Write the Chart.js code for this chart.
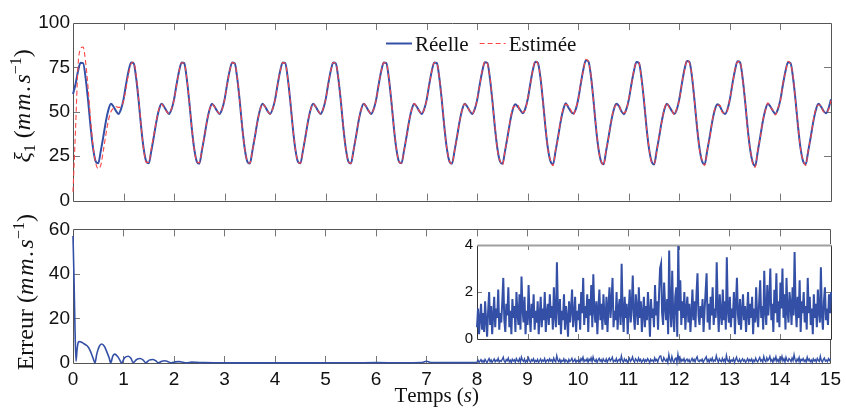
<!DOCTYPE html>
<html><head><meta charset="utf-8">
<script src="https://cdn.jsdelivr.net/npm/chart.js@4.4.0/dist/chart.umd.min.js"></script>
<style>
html,body{margin:0;padding:0;background:#fff;}
#wrap{position:relative;width:846px;height:409px;overflow:hidden;background:#fff;}
canvas{position:absolute;}
</style></head><body>
<div id="wrap">
<canvas id="top" width="846" height="215" style="left:0;top:0;width:846px;height:215px"></canvas>
<canvas id="bot" width="846" height="194" style="left:0;top:215px;width:846px;height:194px"></canvas>
<canvas id="ins" width="400" height="120" style="left:440px;top:232px;width:400px;height:120px"></canvas>
</div>
<script>
// ---------- tick labels ----------
const X_TICKS = [0,1,2,3,4,5,6,7,8,9,10,11,12,13,14,15];
const Y_TOP_TICKS = [0,25,50,75,100];
const Y_ERR_TICKS = [0,20,40,60];
const Y_INSET_TICKS = [0,2,4];
const X_INSET_TICKS = [8,9,10,11,12,13,14,15];

// ---------- series labels ----------
const SERIES_LABELS = ['Réelle', 'Estimée'];

// ---------- sampling grid of the xi_1 signals (s) ----------
const SAMPLE_STEP = 0.05;

const REAL = [
 60,65.5,73,77.6,77.4,69,56,41,29,22,21,28,36,44.5,51,54.5,53,50.5,48.8,51.5,
 57,65.5,73,77.7,77.3,69,56,41,29,22,21,28,36,44.5,51,54.5,53,50.5,48.8,51.5,
 57,65.5,73,77.8,77.4,69,56,41,29,22,20.8,28,36,44.5,51,54.6,53,50.5,48.8,51.5,
 57,65.6,73.1,77.7,77.3,69,56,41,29,22,20.9,28,36,44.5,51,54.5,53,50.4,48.8,51.6,
 57,65.5,73,77.7,77.4,69,56,41,29,22,21,28,36,44.5,51,54.5,53,50.5,48.8,51.5,
 57,65.5,73,77.8,77.3,69,56,41,29,22,20.9,28,36,44.5,51,54.5,53,50.5,48.8,51.5,
 57,65.5,73,77.7,77.4,69,56,41,29,22,21,28,36,44.5,51,54.6,53,50.5,48.8,51.5,
 57,65.5,73,77.8,77.4,69,56,41,29,22,20.8,28,36,44.5,51,54.5,53,50.5,48.8,51.5,
 57,65.5,73,77.9,77.5,69,56,41,29,22,20.7,28,36,44.5,51,54.2,53,51,49.2,51.8,
 57.3,65.8,73.5,78.2,77.6,69.2,56,41,29,22,20.5,28,36,44.5,51,54.8,52.6,50.2,49,51.5,
 57.5,66,74,79,78.3,70,56.5,41,29,22,20.4,28,36,44.5,51,54.5,53.4,50.5,48.6,51.5,
 57,65.5,73,78,77.5,69,56,41,29,22,20.3,28,36,44.5,51,54.6,53,50.5,48.9,51.5,
 57.4,66,73.8,78.6,78,69.5,56,41,29,22,20.4,28,36,44.5,51,54.3,53.2,50.3,48.7,51.3,
 57.2,65.8,73.4,78.4,77.8,69.3,56,41,28.8,21.6,19.5,27.5,36,44.5,51,54.5,53,50.5,48.8,51.5,
 57,65.5,73,77.9,77.4,69,56,41,29,22,20.5,28,36,44.5,51,54.5,53,50.6,49.2,51.8,
 57
];

// xi_1 estimated (mm/s)
const ESTIMATED = [
 5,40,76,85.5,86.5,78,63,45,30,21,18,20,28,37,45,50,52,53,52.5,53,
 56,63.5,71.5,77,78,70.5,57,41.5,28,21.5,21.5,29.5,37,45,51.5,54.3,52.6,50.2,49,51.8,
 56.8,65.2,72.8,77.6,77.5,69.3,56.2,40.8,28.7,22,21.2,28.4,36.2,44.6,51,54.4,52.9,50.5,48.9,51.5,
 57,65.5,73.1,77.7,77.3,69,56,41,29,22,21,28,36,44.5,51,54.5,53,50.4,48.8,51.6,
 57,65.5,73,77.7,77.4,69,56,41,29,22,21,28,36,44.5,51,54.5,53,50.5,48.8,51.5,
 57,65.5,73,77.8,77.3,69,56,41,29,22,20.9,28,36,44.5,51,54.5,53,50.5,48.8,51.5,
 57,65.5,73,77.7,77.4,69,56,41,29,22,21,28,36,44.5,51,54.6,53,50.5,48.8,51.5,
 57,65.5,73,77.8,77.4,69,56,41,29,22,20.8,28,36,44.5,51,54.5,53,50.5,48.8,51.5,
 57.5,65,73.5,78.2,77,69.5,55.5,41.5,28.5,22.5,20.2,28.5,35.5,45,52,53.2,53.8,50,49.8,51,
 58,65.2,74,78.6,77,69.8,55.5,41.6,28.4,22.6,19.6,28.6,35.4,45.2,51.8,54.2,53.5,51.2,48.2,52.2,
 57,66.6,73.4,79.6,78.2,70.6,56,41.6,28.4,22.5,19.8,28.5,35.6,45,51.5,53.8,54,50,49.4,50.8,
 57.8,65,73.6,77.6,77.8,68.4,56.6,40.4,29.6,21.4,20.8,27.4,36.6,44,51.6,55,52.2,51,48.2,52.2,
 56.8,66.6,73.2,79.2,77.4,70.2,55.4,41.6,28.4,22.6,19.8,28.6,35.4,45,51.6,53.6,53.8,49.6,49.4,50.6,
 57.8,65.2,74,78,78.4,68.6,56.6,40.4,29.4,21,18.8,28.2,35.4,45,50.4,55,52.4,51,48.2,52.2,
 56.6,66.2,72.4,78.5,77,69.6,55.4,41.6,28.4,22.6,19.8,28.6,35.4,45.2,51.6,53.8,53.6,50,49.8,51.2,
 56.4
];

// error, transient part (times in s, values in mm/s)
const ERR_T = [0,0.02,0.04,0.06,0.08,0.10,0.12,0.16,0.20,0.25,0.30,0.35,0.40,0.435,0.47,0.52,0.57,0.62,0.67,0.72,0.745,
 0.79,0.83,0.88,0.93,0.96,1.02,1.095,1.15,1.19,1.26,1.33,1.39,1.44,1.51,1.58,1.64,1.69,1.76,1.82,1.88,1.95,
 2.03,2.1,2.18,2.25,2.35,2.45,2.6,2.8,3.0,3.5,4.0,4.5,5.0,5.5,6.0,6.5,6.9,7.0,7.1,7.5,8.0];
const ERR_V = [57,38,15,0.8,6,9,9.6,9.4,8.9,8.2,7.2,5,2,0,4,7.5,8.5,7.5,5,2,0,
 3.2,4,3,1.2,0,2.3,3,2,0.2,1.6,2,1.3,0.1,1.3,1.6,1,0.1,0.8,1.0,0.6,0.1,
 0.5,0.6,0.3,0.1,0.4,0.3,0.15,0.1,0.1,0.05,0.1,0.05,0.1,0.1,0.15,0.1,0.2,0.8,0.2,0.15,0.2];

// error, steady-state part from 8 s (one value every 0.02 s)
const NOISE_START = 8;
const NOISE_STEP = 0.02;
const ERR_NOISE = [
 0.5,1.3,0.2,0.9,1.5,0.4,1.1,0.3,1.6,0.8,0.1,1.2,2.0,0.6,1.4,0.2,1.0,1.8,0.5,1.3,0.9,2.1,0.4,1.1,0.7,
 1.6,2.6,0.8,0.3,1.5,1.0,2.2,0.5,1.2,0.2,1.7,0.9,1.4,0.3,2.0,1.1,0.6,1.9,0.4,2.66,1.3,0.7,1.8,0.2,1.2,
 0.6,2.3,1.0,0.3,1.5,0.9,1.9,0.4,1.2,0.7,1.6,0.2,1.0,1.8,0.5,1.3,0.8,2.0,0.3,1.1,1.5,0.6,1.9,0.9,1.4,
 0.4,2.2,1.0,0.5,3.27,1.3,0.6,1.7,0.2,1.2,0.8,1.9,0.4,1.4,0.9,0.1,1.6,0.7,1.3,2.1,0.5,1.0,1.8,0.3,1.2,
 0.8,1.5,0.4,2.0,1.1,2.6,0.6,1.4,0.9,1.9,0.3,1.7,1.0,2.3,0.5,2.75,1.2,0.7,1.6,0.2,1.3,2.1,0.8,1.5,0.4,
 1.9,1.0,0.6,1.8,0.3,1.4,2.2,0.9,1.6,2.6,0.5,1.2,0.8,2.0,0.4,1.3,1.7,0.6,3.2,1.1,0.3,1.8,0.9,1.5,0.2,
 1.2,2.1,0.7,1.4,2.7,1.0,0.4,1.9,1.3,0.6,2.2,0.9,1.6,0.3,1.1,1.8,0.5,1.4,0.8,2.0,1.2,0.1,1.7,0.9,1.3,
 0.5,2.3,1.0,1.6,0.4,1.9,3.0,3.2,1.1,0.6,2.4,1.4,0.8,1.7,0.2,3.77,1.3,0.5,2.9,1.0,0.3,1.8,2.2,0.1,3.96,
 1.2,2.5,0.6,1.6,0.9,2.0,0.4,1.3,1.8,0.7,1.5,0.3,1.1,2.1,0.8,1.6,0.5,1.9,2.8,1.0,0.6,1.4,0.9,1.7,0.3,
 1.2,2.0,2.8,0.7,1.5,0.4,1.8,1.0,2.2,0.6,1.3,0.9,3.27,1.4,0.3,1.9,1.1,0.6,2.1,0.8,1.6,0.4,3.48,1.2,0.7,
 1.8,0.5,1.3,0.9,2.0,0.2,1.5,2.6,1.0,0.6,1.7,0.4,1.2,1.9,0.8,1.4,0.3,1.1,2.0,0.6,1.5,0.9,1.8,0.2,1.3,
 0.7,2.2,1.0,0.5,1.6,2.5,0.9,1.4,0.4,2.9,1.2,0.6,2.3,1.0,1.7,3.0,0.8,1.5,0.3,2.1,1.1,2.8,0.7,1.6,0.5,
 2.4,1.3,3.0,0.9,1.9,0.4,2.6,1.2,0.7,2.0,1.5,0.6,2.2,1.0,3.7,1.4,0.5,1.8,0.9,2.5,0.3,1.6,1.1,2.0,0.7,
 1.4,0.4,2.6,1.1,1.8,0.6,1.3,0.2,1.9,0.9,1.5,0.5,2.1,1.2,0.7,3.05,1.0,0.4,1.6,2.2,0.8,1.3,0.6,1.9,1.1,
 2.0
];

// ---------- build point lists ----------
const pts = (vals, t0, dt) => vals.map((v, i) => ({x: +(t0 + i * dt).toFixed(4), y: v}));
const realPts = pts(REAL, 0, SAMPLE_STEP);
const estPts = pts(ESTIMATED, 0, SAMPLE_STEP);
const errEarlyPts = ERR_T.map((t, i) => ({x: t, y: ERR_V[i]}));
const errNoisePts = pts(ERR_NOISE, NOISE_START, NOISE_STEP);

const BLUE = '#3450a6';
const RED = '#ff4545';
const SANS = 'Liberation Sans';
const SERIF = 'Liberation Serif';

// ---------- plugins ----------
function framePlugin(o) {
  return {
    id: 'frame' + o.key,
    beforeDraw(chart) {
      if (!o.bg) return;
      const a = chart.chartArea, ctx = chart.ctx;
      ctx.save(); ctx.fillStyle = '#fff';
      ctx.fillRect(a.left - 1, a.top - 1, a.right - a.left + 2, a.bottom - a.top + 2);
      ctx.restore();
    },
    beforeDatasetsDraw(chart) {
      const {ctx, chartArea: a, scales} = chart;
      ctx.save();
      ctx.strokeStyle = o.tickColor; ctx.lineWidth = 1; ctx.beginPath();
      scales.x.ticks.forEach(t => {
        const p = Math.round(scales.x.getPixelForValue(t.value)) + 0.5;
        if (p <= a.left + 2 || p >= a.right - 2) return;
        ctx.moveTo(p, a.bottom); ctx.lineTo(p, a.bottom - o.len);
        ctx.moveTo(p, a.top); ctx.lineTo(p, a.top + o.len);
      });
      scales.y.ticks.forEach(t => {
        const p = Math.round(scales.y.getPixelForValue(t.value)) + 0.5;
        if (p <= a.top + 2 || p >= a.bottom - 2) return;
        ctx.moveTo(a.left, p); ctx.lineTo(a.left + o.len, p);
        ctx.moveTo(a.right, p); ctx.lineTo(a.right - o.len, p);
      });
      ctx.stroke();
      const L = Math.round(a.left) + 0.5, R = Math.round(a.right) + 0.5,
            T = Math.round(a.top) + 0.5, B = Math.round(a.bottom) + 0.5;
      ctx.strokeStyle = o.boxColor; ctx.lineWidth = 1;
      ctx.beginPath();
      ctx.moveTo(L, T); ctx.lineTo(L, B); ctx.lineTo(R, B); ctx.lineTo(R, T);
      if (!o.topColor) ctx.lineTo(L, T);
      ctx.stroke();
      if (o.topColor) {
        ctx.strokeStyle = o.topColor; ctx.lineWidth = 2;
        ctx.beginPath(); ctx.moveTo(L, T); ctx.lineTo(R, T); ctx.stroke();
      }
      ctx.restore();
    }
  };
}

function drawRich(ctx, parts, cx, cy, rotate) {
  ctx.save();
  ctx.translate(cx, cy);
  if (rotate) ctx.rotate(-Math.PI / 2);
  let w = 0;
  parts.forEach(p => {
    ctx.font = p.f;
    p.cw = [...p.t].map(c => ctx.measureText(c).width);
    p.w = p.cw.reduce((s, v) => s + v, 0) + (p.ls || 0) * (p.cw.length - 1);
    w += p.w;
  });
  let x = -w / 2;
  ctx.fillStyle = '#111'; ctx.textBaseline = 'alphabetic'; ctx.textAlign = 'left';
  parts.forEach(p => {
    ctx.font = p.f;
    let xx = x;
    [...p.t].forEach((c, i) => { ctx.fillText(c, xx, p.dy || 0); xx += p.cw[i] + (p.ls || 0); });
    x += p.w;
  });
  ctx.restore();
}

const topTexts = {
  id: 'topTexts',
  afterDraw(chart) {
    const ctx = chart.ctx, a = chart.chartArea;
    drawRich(ctx, [
      {t: 'ξ', f: `italic 24px "${SERIF}"`},
      {t: '1', f: `16px "${SERIF}"`, dy: 5},
      {t: ' (', f: `24px "${SERIF}"`},
      {t: 'mm.s', f: `italic 24px "${SERIF}"`, ls: 2},
      {t: '−1', f: `16px "${SERIF}"`, dy: -9},
      {t: ')', f: `24px "${SERIF}"`}
    ], 30, (a.top + a.bottom) / 2 - 6, true);
    // legend, drawn from the dataset styles
    const ds = chart.data.datasets;
    const items = [ds.find(d => d.label === SERIES_LABELS[0]), ds.find(d => d.label === SERIES_LABELS[1])];
    const y = a.top + 20.5;
    let x = a.left + 313;
    ctx.save();
    ctx.font = `21px "${SERIF}"`; ctx.textBaseline = 'alphabetic'; ctx.fillStyle = '#111';
    items.forEach(d => {
      ctx.strokeStyle = d.borderColor; ctx.lineWidth = d.borderWidth;
      ctx.setLineDash(d.borderDash || []);
      ctx.beginPath(); ctx.moveTo(x, y); ctx.lineTo(x + 26, y); ctx.stroke();
      ctx.setLineDash([]);
      ctx.fillText(d.label, x + 29, y + 7.5);
      x += 29 + ctx.measureText(d.label).width + 11;
    });
    ctx.restore();
  }
};

const botTexts = {
  id: 'botTexts',
  afterDraw(chart) {
    const ctx = chart.ctx, a = chart.chartArea;
    drawRich(ctx, [
      {t: 'Erreur (', f: `24px "${SERIF}"`},
      {t: 'mm.s', f: `italic 24px "${SERIF}"`, ls: 2},
      {t: '−1', f: `16px "${SERIF}"`, dy: -9},
      {t: ')', f: `24px "${SERIF}"`}
    ], 33, (a.top + a.bottom) / 2 - 4, true);
    drawRich(ctx, [
      {t: 'Temps (', f: `21px "${SERIF}"`},
      {t: 's', f: `italic 21px "${SERIF}"`},
      {t: ')', f: `21px "${SERIF}"`}
    ], (a.left + a.right) / 2 - 15, 187, false);
  }
};

const setTicks = arr => s => { s.ticks = arr.map(v => ({value: v})); };
const base = {
  animation: false, responsive: false, events: [],
  plugins: {legend: {display: false}, tooltip: {enabled: false}},
  elements: {point: {radius: 0}}
};

// ---------- top chart ----------
new Chart(document.getElementById('top'), {
  type: 'line',
  data: {datasets: [
    {label: SERIES_LABELS[0], data: realPts, borderColor: BLUE, borderWidth: 2, cubicInterpolationMode: 'monotone', order: 2, clip: 3},
    {label: SERIES_LABELS[1], data: estPts, borderColor: RED, borderWidth: 1.1, borderDash: [5, 3], cubicInterpolationMode: 'monotone', order: 1, clip: 3}
  ]},
  options: Object.assign({}, base, {
    layout: {padding: {top: 23, right: 15, bottom: 9, left: 0}},
    scales: {
      x: {type: 'linear', min: 0, max: 15, afterBuildTicks: setTicks(X_TICKS),
          ticks: {display: false}, grid: {display: false, drawTicks: false}, border: {display: false},
          afterFit: s => { s.height = 0; }},
      y: {type: 'linear', min: 0, max: 100, afterBuildTicks: setTicks(Y_TOP_TICKS),
          ticks: {font: {family: SANS, size: 19}, color: '#111', padding: 3},
          grid: {display: false, drawTicks: false}, border: {display: false},
          afterFit: s => { s.width = 73; }}
    }
  }),
  plugins: [framePlugin({key: 't', len: 7, tickColor: '#777', boxColor: '#555'}), topTexts]
});

// ---------- bottom chart ----------
new Chart(document.getElementById('bot'), {
  type: 'line',
  data: {datasets: [
    {data: errEarlyPts, borderColor: BLUE, borderWidth: 1.6, cubicInterpolationMode: 'monotone', clip: 3},
    {data: errNoisePts, borderColor: BLUE, borderWidth: 1.4, tension: 0, clip: 3}
  ]},
  options: Object.assign({}, base, {
    layout: {padding: {top: 14, right: 15, bottom: 0, left: 0}},
    scales: {
      x: {type: 'linear', min: 0, max: 15, afterBuildTicks: setTicks(X_TICKS),
          ticks: {font: {family: SANS, size: 19}, color: '#111', padding: 5, maxRotation: 0, autoSkip: false},
          grid: {display: false, drawTicks: false}, border: {display: false},
          afterFit: s => { s.height = 46; }},
      y: {type: 'linear', min: 0, max: 60, afterBuildTicks: setTicks(Y_ERR_TICKS),
          ticks: {font: {family: SANS, size: 19}, color: '#111', padding: 3},
          grid: {display: false, drawTicks: false}, border: {display: false},
          afterFit: s => { s.width = 73; }}
    }
  }),
  plugins: [framePlugin({key: 'b', len: 7, tickColor: '#777', boxColor: '#555'}), botTexts]
});

// ---------- inset ----------
new Chart(document.getElementById('ins'), {
  type: 'line',
  data: {datasets: [
    {data: errNoisePts, borderColor: BLUE, borderWidth: 2, tension: 0, clip: 2}
  ]},
  options: Object.assign({}, base, {
    layout: {padding: {top: 10, right: 9, bottom: 7, left: 0}},
    scales: {
      x: {type: 'linear', min: 8, max: 15, afterBuildTicks: setTicks(X_INSET_TICKS),
          ticks: {display: false}, grid: {display: false, drawTicks: false}, border: {display: false},
          afterFit: s => { s.height = 0; }},
      y: {type: 'linear', min: 0, max: 4, afterBuildTicks: setTicks(Y_INSET_TICKS),
          ticks: {font: {family: SANS, size: 15}, color: '#111', padding: 4},
          grid: {display: false, drawTicks: false}, border: {display: false},
          afterFit: s => { s.width = 37; }}
    }
  }),
  plugins: [framePlugin({key: 'i', len: 5, tickColor: '#777', boxColor: '#333', topColor: '#a0a0a0', bg: true})]
});
</script>
</body></html>
